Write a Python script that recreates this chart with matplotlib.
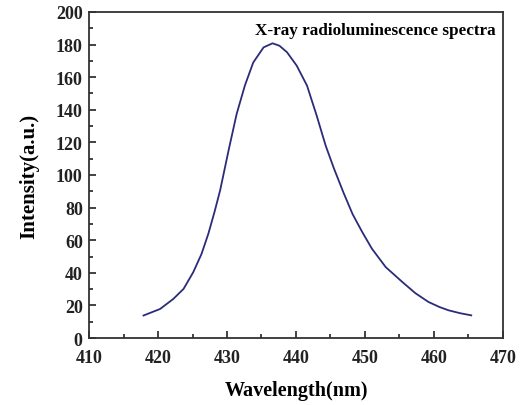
import matplotlib
matplotlib.use("Agg")
import matplotlib.pyplot as plt
from matplotlib.ticker import MultipleLocator

wavelength = [417.9, 420.3, 422.2, 423.7, 425.1, 426.3, 427.3, 428.2, 429.0, 430.3,
              431.4, 432.6, 433.8, 435.3, 436.6, 437.6, 438.7, 440.1, 441.6, 443.0,
              444.3, 445.5, 446.9, 448.2, 449.6, 451.0, 453.0, 455.4, 457.3, 459.2,
              460.8, 462.1, 463.8, 465.4]
intensity = [13.8, 17.8, 23.9, 30.1, 40.3, 51.5, 64.0, 77.5, 90.5, 116.5,
             137.5, 155.0, 169.0, 178.3, 180.8, 179.3, 175.3, 167.1, 154.8, 136.4,
             118.0, 104.0, 89.0, 76.0, 65.0, 54.8, 43.5, 34.4, 27.5, 22.1,
             19.0, 17.0, 15.2, 13.9]

title_text = "X-ray radioluminescence spectra"
x_label = "Wavelength(nm)"
y_label = "Intensity(a.u.)"

plt.rcParams['font.family'] = ['Liberation Serif', 'DejaVu Serif']
plt.rcParams['font.weight'] = 'bold'

fig = plt.figure(figsize=(5.25, 4.06), dpi=100)
ax = fig.add_axes([89/525, 1-339/406, (503-89)/525, (339-13)/406])
ax.plot(wavelength, intensity, color='#2b2b7a', lw=1.3)

ax.set_xlim(410, 470)
ax.set_ylim(0, 200)
ax.xaxis.set_major_locator(MultipleLocator(10))
ax.xaxis.set_minor_locator(MultipleLocator(5))
ax.yaxis.set_major_locator(MultipleLocator(20))
ax.yaxis.set_minor_locator(MultipleLocator(10))
ax.tick_params(which='both', direction='in', top=False, right=False,
               labelsize=13, width=1.2, colors='#222222')
ax.tick_params(axis='x', which='major', pad=8)
ax.tick_params(axis='y', which='major', pad=4.5)
ax.tick_params(which='major', length=5)
ax.tick_params(which='minor', length=3)
for lab in ax.get_xticklabels() + ax.get_yticklabels():
    lab.set_fontweight('bold')
for s in ax.spines.values():
    s.set_linewidth(1.3)
    s.set_color('#333333')

ax.set_xlabel(x_label, fontsize=14.5, fontweight='bold', labelpad=10)
ax.set_ylabel(y_label, fontsize=15, fontweight='bold', labelpad=12)
ax.text(0.983, 0.945, title_text, transform=ax.transAxes, ha='right', va='center',
        fontsize=12.3, fontweight='bold')

fig.savefig('out.png', dpi=100)
